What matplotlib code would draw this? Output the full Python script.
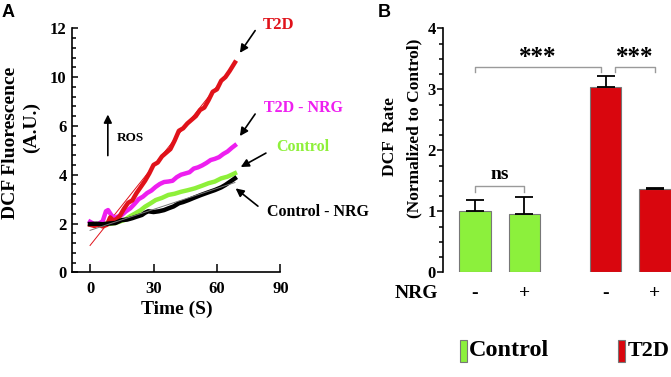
import matplotlib
matplotlib.use("Agg")
import matplotlib.pyplot as plt
from matplotlib.patches import Rectangle
from matplotlib.ticker import MultipleLocator, FixedLocator

plt.rcParams['font.family'] = ['Liberation Serif', 'DejaVu Serif']
plt.rcParams['font.weight'] = 'bold'

# ---- panel A data (y in axis units; tick labels below are as printed) ----
t_t2d = [0, 2, 4, 6, 8, 9.5, 11, 12.5, 14, 16, 18, 20, 22, 24, 26, 28, 30, 32, 34, 36,
         38, 40, 42, 44, 46, 48, 50, 52, 54, 56, 58, 60, 62, 64, 66, 68.5]
y_t2d = [1.95, 1.9, 1.95, 1.88, 1.95, 2.25, 2.12, 2.18, 2.3, 2.6, 2.85, 2.95, 3.25, 3.5,
         3.75, 4.05, 4.4, 4.5, 4.75, 4.9, 5.05, 5.4, 5.8, 5.9, 6.1, 6.25, 6.4, 6.65, 6.75,
         7.05, 7.4, 7.5, 7.85, 8.0, 8.25, 8.6]
t_t2d_nrg = [0, 2, 4, 6, 7.5, 8.5, 10, 11.5, 13, 15, 17, 19, 21, 23, 25, 27, 29, 31, 33,
             35, 37, 39, 41, 43, 45, 47, 49, 51, 53, 55, 57, 59, 61, 63, 65, 67, 68.5]
y_t2d_nrg = [2.07, 1.97, 1.98, 2.1, 2.5, 2.55, 2.35, 2.22, 2.28, 2.35, 2.5, 2.62, 2.8, 3.0,
             3.1, 3.25, 3.35, 3.5, 3.62, 3.7, 3.72, 3.75, 3.9, 4.0, 4.05, 4.1, 4.25, 4.3,
             4.38, 4.48, 4.6, 4.65, 4.72, 4.85, 4.95, 5.1, 5.2]
t_ctrl = [0, 3, 6, 9, 12, 14, 16.5, 19, 21.5, 24, 26, 28.5, 31, 34, 37, 40, 43, 46, 49.5,
          53, 56, 59, 62, 65, 68.5]
y_ctrl = [1.98, 1.97, 2.0, 1.98, 2.02, 2.08, 2.15, 2.3, 2.42, 2.55, 2.69, 2.82, 2.96, 3.05,
          3.17, 3.22, 3.3, 3.36, 3.44, 3.55, 3.65, 3.72, 3.85, 3.92, 4.06]
t_ctrl_nrg = [0, 3, 6, 9, 12, 15, 17.5, 20, 22, 24.5, 26, 27.5, 30, 32.5, 35, 37, 39.5, 42,
              44, 46.5, 49, 52.5, 56, 59, 62, 64, 66, 68.5]
y_ctrl_nrg = [1.98, 1.99, 1.97, 2.0, 2.02, 2.14, 2.16, 2.22, 2.28, 2.35, 2.44, 2.5, 2.47,
              2.5, 2.55, 2.62, 2.7, 2.83, 2.88, 2.96, 3.05, 3.17, 3.28, 3.37, 3.48, 3.58,
              3.7, 3.85]
fit_t = [0, 68.5]
fit_t2d = [1.1, 8.55]
fit_ctrl = [1.72, 3.68]
ytick_labels_a = ['0', '2', '4', '6', '10', '12']

# ---- panel B data ----
groups = ['Control', 'Control', 'T2D', 'T2D']
nrg = ['-', '+', '-', '+']
rate = [1.0, 0.95, 3.04, 1.37]
rate_err = [0.18, 0.29, 0.17, 0.02]

RED = '#e0121a'
MAG = '#ee1ff0'
GREEN = '#8ef03a'
BAR_RED = '#d9060e'
BAR_GREEN = '#8cf03c'

W, H = 671, 377
fig = plt.figure(figsize=(W / 100, H / 100), dpi=100)


def px_axes(l, t, r, b):
    return fig.add_axes([l / W, 1 - b / H, (r - l) / W, (b - t) / H])


def fx(x):
    return x / W


def fy(y):
    return 1 - y / H


# ================= Panel A =================
ax = px_axes(72.3, 28.3, 280.4, 272.3)
ax.plot(fit_t, fit_t2d, color=RED, lw=0.7, zorder=2)
ax.plot(t_ctrl, y_ctrl, color=GREEN, lw=3.2, zorder=3)
ax.plot(t_t2d_nrg, y_t2d_nrg, color=MAG, lw=3.2, zorder=3)
ax.plot(t_t2d, y_t2d, color=RED, lw=3.2, zorder=3)
ax.plot(t_ctrl_nrg, y_ctrl_nrg, color='black', lw=3.2, zorder=4)
ax.plot(fit_t, fit_ctrl, color='#777777', lw=0.7, zorder=5)

ax.set_xlim(-8.4, 90)
ax.set_ylim(0, 10)
ax.spines['top'].set_visible(False)
ax.spines['right'].set_visible(False)
for s in ['left', 'bottom']:
    ax.spines[s].set_linewidth(1.2)
ax.xaxis.set_major_locator(FixedLocator([0, 30, 60, 90]))
ax.yaxis.set_major_locator(FixedLocator([0, 2, 4, 6, 8, 10]))
ax.set_yticklabels(ytick_labels_a)
ax.yaxis.set_minor_locator(MultipleLocator(0.4))
ax.tick_params(axis='both', which='both', direction='in', labelsize=12, width=1.1)
ax.tick_params(axis='y', which='major', length=4, pad=4)
ax.tick_params(axis='y', which='minor', length=3)
ax.tick_params(axis='x', which='major', length=6, pad=6)
ax.set_xlabel('Time (S)', fontsize=14, fontweight='bold', labelpad=3)

arrow_kw = dict(arrowstyle='-|>', color='black', lw=1.2, mutation_scale=12)
ax.annotate('', xy=(70.1, 8.9), xytext=(78.8, 10.0), arrowprops=arrow_kw, annotation_clip=False)
ax.annotate('', xy=(70.1, 5.49), xytext=(78.8, 6.58), arrowprops=arrow_kw, annotation_clip=False)
ax.annotate('', xy=(70.1, 4.26), xytext=(84.3, 4.94), arrowprops=arrow_kw, annotation_clip=False)
ax.annotate('', xy=(67.8, 3.51), xytext=(80.4, 2.64), arrowprops=arrow_kw, annotation_clip=False)
ax.annotate('', xy=(8.4, 6.58), xytext=(8.4, 4.67), arrowprops=arrow_kw, annotation_clip=False)

ax.text(81.8, 10.13, 'T2D', color=RED, fontsize=12, va='center', clip_on=False)
ax.text(82.3, 6.73, 'T2D - NRG', color=MAG, fontsize=11.5, va='center', clip_on=False)
ax.text(87.9, 5.15, 'Control', color=GREEN, fontsize=11.5, va='center', clip_on=False)
ax.text(83.5, 2.48, 'Control - NRG', color='black', fontsize=11.5, va='center', clip_on=False)
ax.text(12.6, 5.49, 'ROS', color='black', fontsize=9.5, va='center', clip_on=False)

fig.text(fx(11), fy(143), 'DCF Fluorescence', rotation=90, fontsize=14,
         ha='center', va='center')
fig.text(fx(31), fy(128), '(A.U.)', rotation=90, fontsize=14, ha='center', va='center')
fig.text(fx(2), fy(4), 'A', family='Liberation Sans', fontsize=13, fontweight='bold',
         ha='left', va='top')

# ================= Panel B =================
bx = px_axes(442.7, 28.3, 671, 272.3)
xpos = [0, 1, 2.65, 3.65]
colors = [BAR_GREEN if g == 'Control' else BAR_RED for g in groups]
bx.bar(xpos, rate, width=0.64, color=colors, edgecolor='#777777', linewidth=0.8, zorder=2)
bx.errorbar(xpos, rate, yerr=[[0] * len(rate), rate_err], fmt='none', ecolor='black',
            elinewidth=1.3, capsize=6.5, capthick=1.3, zorder=3)

bx.set_xlim(-0.657, 3.98)
bx.set_ylim(0, 4)
for s in ['top', 'right', 'bottom']:
    bx.spines[s].set_visible(False)
bx.spines['left'].set_linewidth(1.2)
bx.set_xticks([])
bx.yaxis.set_major_locator(MultipleLocator(1))
bx.yaxis.set_minor_locator(MultipleLocator(0.25))
bx.tick_params(axis='y', which='both', direction='out', labelsize=12, width=1.1, pad=1)
bx.tick_params(axis='y', which='major', length=4)
bx.tick_params(axis='y', which='minor', length=3)


def bracket(x0, x1, ytop, ylow, label, ty, size):
    bx.plot([x0, x0, x1, x1], [ylow, ytop, ytop, ylow], color='#9a9a9a', lw=1.0,
            clip_on=False)
    bx.text((x0 + x1) / 2, ty, label, ha='center', va='center', fontsize=size,
            clip_on=False)


bracket(0, 1, 1.41, 1.32, 'ns', 1.61, 14)
bracket(0, 2.55, 3.37, 3.29, '***', 3.52, 18)
bracket(2.85, 3.65, 3.37, 3.29, '***', 3.52, 18)

for x, s in zip(xpos, nrg):
    bx.text(x, -0.345, s, ha='center', va='center', fontsize=14, clip_on=False)
bx.text(-0.02, -0.345, 'NRG', ha='right', va='center', fontsize=14,
        transform=bx.get_yaxis_transform(), clip_on=False)

fig.text(fx(390), fy(137), 'DCF  Rate', rotation=90, fontsize=12.5, ha='center', va='center')
fig.text(fx(414), fy(128), '(Normalized to Control)', rotation=90, fontsize=12.5,
         ha='center', va='center')
fig.text(fx(378), fy(4), 'B', family='Liberation Sans', fontsize=13, fontweight='bold',
         ha='left', va='top')

# legend at the bottom
fig.patches.append(Rectangle((fx(460), fy(361.7)), 6.5 / W, 21.7 / H, transform=fig.transFigure,
                             facecolor=BAR_GREEN, edgecolor='#777777', lw=0.8))
fig.text(fx(469), fy(351), 'Control', fontsize=17.5, ha='left', va='center')
fig.patches.append(Rectangle((fx(618), fy(361.7)), 6.5 / W, 21.7 / H, transform=fig.transFigure,
                             facecolor=BAR_RED, edgecolor='#777777', lw=0.8))
fig.text(fx(628), fy(351), 'T2D', fontsize=16, ha='left', va='center')

fig.savefig('out.png', dpi=100)
